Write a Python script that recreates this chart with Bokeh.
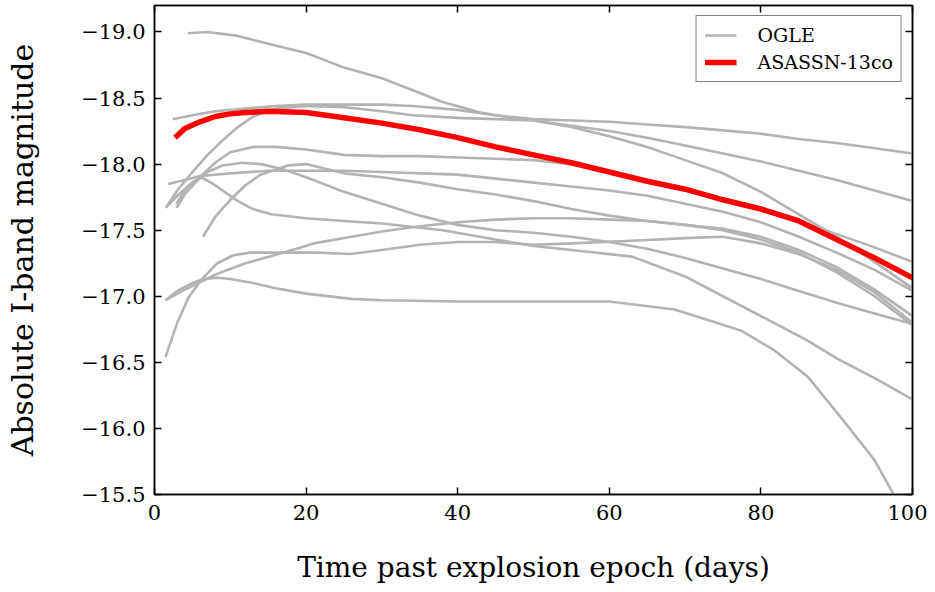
from bokeh.plotting import figure
from bokeh.models import (Range1d, FixedTicker, LinearAxis, Legend, LegendItem,
                          CustomJSTickFormatter)
from bokeh.embed import file_html
from bokeh.resources import INLINE

# ---------------- data ----------------
x_ticks = [0, 20, 40, 60, 80, 100]
x_tick_labels = ["0", "20", "40", "60", "80", "100"]
y_ticks = [-19.0, -18.5, -18.0, -17.5, -17.0, -16.5, -16.0, -15.5]
y_tick_labels = ["\u221219.0", "\u221218.5", "\u221218.0", "\u221217.5",
                 "\u221217.0", "\u221216.5", "\u221216.0", "\u221215.5"]

asassn_t = [2.7, 4, 6, 8, 10, 12, 15, 20, 25, 30, 35, 40, 45, 50, 55, 60,
            65, 70, 75, 80, 85, 90, 95, 100]
asassn_m = [-18.20, -18.27, -18.32, -18.36, -18.38, -18.39, -18.40, -18.39,
            -18.35, -18.31, -18.26, -18.20, -18.13, -18.07, -18.01, -17.94,
            -17.87, -17.81, -17.73, -17.66, -17.57, -17.43, -17.29, -17.14]

ogle01_t = [4.4, 7, 11, 15, 20, 25, 30, 34, 38, 43, 47, 50, 55, 60, 65, 70,
            75, 80, 85, 90, 95, 100]
ogle01_m = [-18.99, -19.00, -18.97, -18.91, -18.84, -18.73, -18.65, -18.56,
            -18.47, -18.39, -18.35, -18.33, -18.29, -18.25, -18.20, -18.14,
            -18.08, -18.02, -17.95, -17.88, -17.80, -17.72]

ogle02_t = [2.4, 5, 8, 12, 16, 20, 25, 30, 34, 40, 45, 50, 55, 60, 65, 70,
            75, 80, 85, 90, 95, 100]
ogle02_m = [-18.34, -18.37, -18.40, -18.42, -18.44, -18.45, -18.45, -18.45,
            -18.44, -18.41, -18.37, -18.34, -18.33, -18.32, -18.30, -18.28,
            -18.255, -18.23, -18.19, -18.16, -18.12, -18.08]

ogle03_t = [1.5, 3, 5, 7, 9, 11, 13, 16, 20, 25, 30, 34, 40, 45, 50, 55, 60,
            65, 70, 75, 80, 85, 90, 95, 100]
ogle03_m = [-17.67, -17.80, -17.94, -18.07, -18.18, -18.28, -18.36, -18.42,
            -18.44, -18.43, -18.40, -18.37, -18.35, -18.34, -18.33, -18.28,
            -18.21, -18.13, -18.03, -17.93, -17.79, -17.62, -17.45, -17.26,
            -17.06]

ogle04_t = [2.9, 4, 6, 8, 10, 13, 16, 20, 25, 30, 35, 40, 45, 50, 55, 60, 65,
            70, 75, 80, 85, 90, 95, 100]
ogle04_m = [-17.67, -17.77, -17.90, -18.01, -18.09, -18.13, -18.13, -18.11,
            -18.07, -18.06, -18.06, -18.05, -18.04, -18.03, -18.00, -17.94,
            -17.88, -17.82, -17.74, -17.67, -17.57, -17.47, -17.37, -17.26]

ogle05_t = [1.8, 4, 6, 10, 15, 20, 25, 30, 40, 50, 55, 60, 65, 70, 75, 80,
            85, 90, 95, 100]
ogle05_m = [-17.85, -17.88, -17.91, -17.93, -17.95, -17.95, -17.95, -17.94,
            -17.92, -17.86, -17.83, -17.80, -17.76, -17.70, -17.64, -17.56,
            -17.45, -17.33, -17.20, -17.04]

ogle06_t = [6.4, 8, 10, 12, 14, 17.6, 20, 25, 30, 35, 40, 45, 50, 55, 60, 65,
            70, 75, 80, 85, 90, 95, 100]
ogle06_m = [-17.45, -17.60, -17.73, -17.84, -17.92, -17.99, -18.00, -17.93,
            -17.90, -17.86, -17.81, -17.77, -17.72, -17.66, -17.61, -17.57,
            -17.54, -17.51, -17.45, -17.35, -17.22, -17.05, -16.85]

ogle07_t = [1.5, 3, 5, 7, 9, 11.5, 14, 17, 20, 25, 30, 35, 40, 45, 50, 55,
            60, 65, 70, 75, 80, 85, 90, 95, 100]
ogle07_m = [-17.67, -17.76, -17.86, -17.94, -17.99, -18.01, -18.00, -17.96,
            -17.90, -17.79, -17.70, -17.61, -17.54, -17.50, -17.48, -17.45,
            -17.41, -17.36, -17.29, -17.21, -17.13, -17.04, -16.95, -16.87,
            -16.79]

ogle08_t = [2.9, 4, 5, 6.2, 8, 10, 11, 13, 15.4, 20, 25, 30, 38, 45, 50, 55,
            63, 70, 75, 80, 86, 90, 95, 100]
ogle08_m = [-17.70, -17.80, -17.86, -17.90, -17.84, -17.76, -17.72, -17.66,
            -17.62, -17.59, -17.57, -17.55, -17.50, -17.43, -17.38, -17.35,
            -17.30, -17.15, -17.00, -16.85, -16.67, -16.53, -16.38, -16.22]

ogle09_t = [1.45, 4, 8.3, 12, 17, 21, 26, 30, 35, 40, 45, 50, 55, 60, 65, 70,
            75, 80, 85, 90, 95, 100]
ogle09_m = [-16.97, -17.05, -17.17, -17.25, -17.33, -17.40, -17.45, -17.49,
            -17.53, -17.56, -17.58, -17.59, -17.59, -17.58, -17.57, -17.54,
            -17.50, -17.43, -17.33, -17.18, -17.00, -16.78]

ogle10_t = [1.45, 3, 4.5, 6.1, 8.3, 10.4, 12.6, 17, 21.4, 25.8, 30, 35, 40,
            45, 50, 55, 63, 70, 75, 80, 85, 90, 95, 100]
ogle10_m = [-16.54, -16.80, -16.99, -17.12, -17.25, -17.31, -17.33, -17.33,
            -17.33, -17.32, -17.35, -17.39, -17.41, -17.41, -17.39, -17.40,
            -17.42, -17.44, -17.45, -17.40, -17.32, -17.20, -17.03, -16.80]

ogle11_t = [1.45, 3, 5, 6.5, 8.3, 10, 13, 16, 20, 26, 30, 40, 51, 60, 68.6,
            73, 77.4, 81.8, 86.2, 90.6, 95, 97.5, 99]
ogle11_m = [-16.97, -17.04, -17.10, -17.13, -17.14, -17.13, -17.10, -17.06,
            -17.02, -16.98, -16.97, -16.96, -16.96, -16.96, -16.90, -16.82,
            -16.74, -16.59, -16.39, -16.08, -15.76, -15.50, -15.30]

ogle_t = [ogle01_t, ogle02_t, ogle03_t, ogle04_t, ogle05_t, ogle06_t,
          ogle07_t, ogle08_t, ogle09_t, ogle10_t, ogle11_t]
ogle_m = [ogle01_m, ogle02_m, ogle03_m, ogle04_m, ogle05_m, ogle06_m,
          ogle07_m, ogle08_m, ogle09_m, ogle10_m, ogle11_m]

# ---------------- styling ----------------
FONT = "DejaVu Serif"
GREY = "#b3b3b3"
RED = "#ff0000"

p = figure(frame_width=758, frame_height=489,
           x_range=Range1d(0, 100), y_range=Range1d(-15.5, -19.2),
           output_backend="svg", toolbar_location=None,
           min_border_left=154, min_border_right=15,
           min_border_top=5, min_border_bottom=60)
p.background_fill_color = "white"
p.border_fill_color = "white"
p.outline_line_color = "black"
p.outline_line_width = 1.5
p.xgrid.visible = False
p.ygrid.visible = False

grey_renderers = []
for t, m in zip(ogle_t, ogle_m):
    r = p.line(t, m, line_color=GREY, line_width=2.6, line_join="round")
    grey_renderers.append(r)
red_r = p.line(asassn_t, asassn_m, line_color=RED, line_width=5.5,
               line_join="round")

xticker = FixedTicker(ticks=x_ticks)
yticker = FixedTicker(ticks=y_ticks)

LOOKUP = """
let best = -1, bd = 1e9;
for (let i = 0; i < tvals.length; i++) {
  const d = Math.abs(tvals[i] - tick);
  if (d < bd) { bd = d; best = i; }
}
return (best >= 0 && bd < 1e-6) ? tlabels[best] : "";
"""
x_fmt = CustomJSTickFormatter(args=dict(tvals=x_ticks, tlabels=x_tick_labels),
                              code=LOOKUP)
y_fmt = CustomJSTickFormatter(args=dict(tvals=y_ticks, tlabels=y_tick_labels),
                              code=LOOKUP)


def style_axis(ax, labels=True):
    ax.axis_line_color = "black"
    ax.axis_line_width = 1.5
    ax.major_tick_line_color = "black"
    ax.major_tick_line_width = 1.5
    ax.major_tick_in = 7
    ax.major_tick_out = 0
    ax.minor_tick_in = 0
    ax.minor_tick_out = 0
    ax.minor_tick_line_color = None
    if labels:
        ax.major_label_text_font = FONT
        ax.major_label_text_font_size = "21px"
        ax.major_label_text_color = "black"
        ax.axis_label_text_font = FONT
        ax.axis_label_text_font_style = "normal"
        ax.axis_label_text_color = "black"
    else:
        ax.major_label_text_font_size = "0px"
        ax.major_label_text_color = None
        ax.major_label_text_alpha = 0
        ax.major_label_standoff = 0


xa = p.xaxis[0]
xa.ticker = xticker
xa.formatter = x_fmt
xa.axis_label = "Time past explosion epoch (days)"
xa.major_label_standoff = 10
xa.axis_label_standoff = 28
style_axis(xa)
xa.axis_label_text_font_size = "28px"

ya = p.yaxis[0]
ya.ticker = yticker
ya.formatter = y_fmt
ya.axis_label = "Absolute I-band magnitude"
ya.major_label_standoff = 9
ya.axis_label_standoff = 38
style_axis(ya)
ya.axis_label_text_font_size = "30px"

top_ax = LinearAxis(ticker=xticker)
style_axis(top_ax, labels=False)
p.add_layout(top_ax, "above")
right_ax = LinearAxis(ticker=yticker)
style_axis(right_ax, labels=False)
p.add_layout(right_ax, "right")

legend = Legend(items=[LegendItem(label="OGLE", renderers=[grey_renderers[0]]),
                       LegendItem(label="ASASSN-13co", renderers=[red_r])],
                location="top_right")
legend.label_text_font = FONT
legend.label_text_font_size = "19px"
legend.label_text_color = "black"
legend.border_line_color = "black"
legend.border_line_width = 1.5
legend.background_fill_color = "white"
legend.background_fill_alpha = 1.0
legend.glyph_width = 32
legend.glyph_height = 20
legend.label_height = 20
legend.label_standoff = 21
legend.spacing = 5
legend.padding = 8
legend.margin = 10
p.add_layout(legend)

open("out.html", "w").write(file_html(p, INLINE))
